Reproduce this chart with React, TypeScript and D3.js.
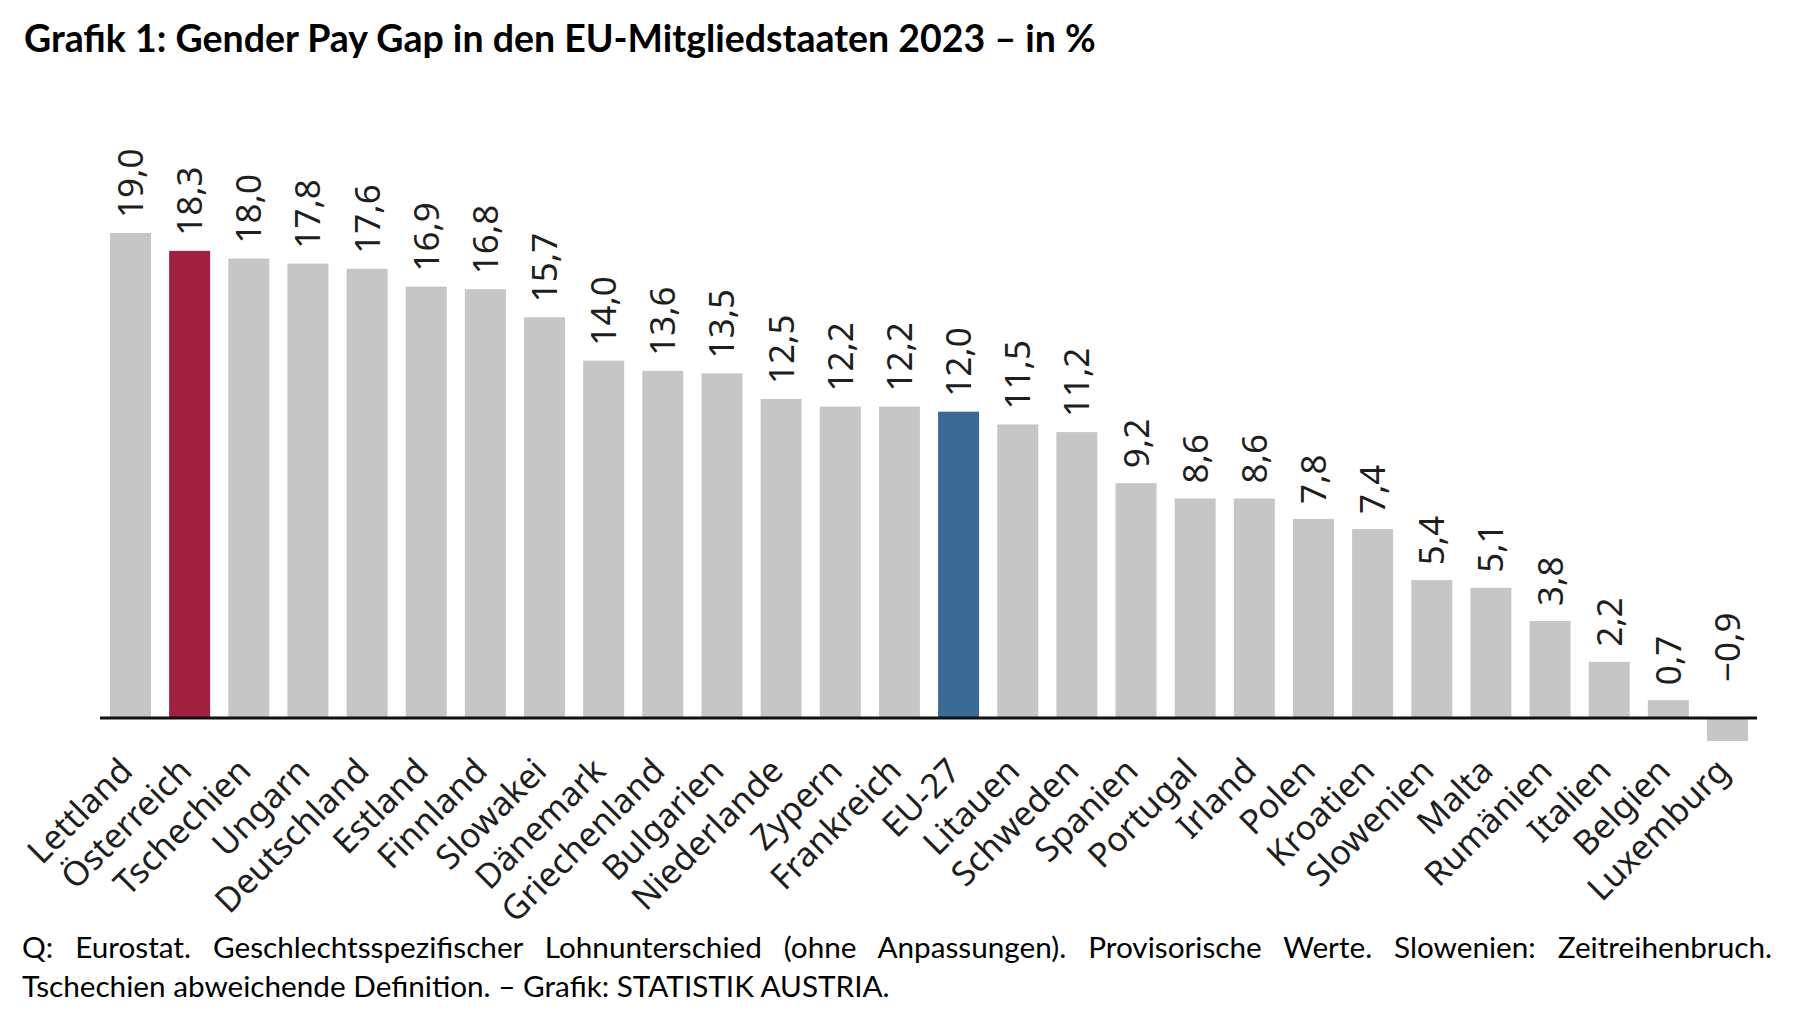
import React, { useEffect, useRef } from 'react'
import * as d3 from 'd3'

const categories = [
  'Lettland', 'Österreich', 'Tschechien', 'Ungarn', 'Deutschland', 'Estland', 'Finnland',
  'Slowakei', 'Dänemark', 'Griechenland', 'Bulgarien', 'Niederlande', 'Zypern', 'Frankreich',
  'EU-27', 'Litauen', 'Schweden', 'Spanien', 'Portugal', 'Irland', 'Polen', 'Kroatien',
  'Slowenien', 'Malta', 'Rumänien', 'Italien', 'Belgien', 'Luxemburg',
]
const values = [
  19.0, 18.3, 18.0, 17.8, 17.6, 16.9, 16.8, 15.7, 14.0, 13.6, 13.5, 12.5, 12.2, 12.2,
  12.0, 11.5, 11.2, 9.2, 8.6, 8.6, 7.8, 7.4, 5.4, 5.1, 3.8, 2.2, 0.7, -0.9,
]
const highlightColors: Record<string, string> = {
  'Österreich': '#A0213F',
  'EU-27': '#3B6A96',
}
const titleText = 'Grafik 1: Gender Pay Gap in den EU-Mitgliedstaaten 2023 – in %'
const noteLines = [
  'Q: Eurostat. Geschlechtsspezifischer Lohnunterschied (ohne Anpassungen). Provisorische Werte. Slowenien: Zeitreihenbruch.',
  'Tschechien abweichende Definition. – Grafik: STATISTIK AUSTRIA.',
]

const locale = d3.formatLocale({
  decimal: ',',
  thousands: '.',
  grouping: [3],
  currency: ['', ' €'],
  minus: '−',
})
const fmt = locale.format('.1f')

export default function App() {
  const svgRef = useRef<SVGSVGElement>(null)

  useEffect(() => {
    if (!svgRef.current) return
    document.body.style.margin = '0'

    const svg = d3.select(svgRef.current)
    svg.selectAll('*').remove()

    const rows = categories.map((c, i) => ({ c, v: values[i] }))

    const x = d3
      .scaleBand<string>()
      .domain(categories)
      .range([100, 1758])
      .paddingInner(0.307)
      .paddingOuter(0.169)

    const y = d3.scaleLinear().domain([0, 19]).range([718, 233])

    const cx = (c: string) => (x(c) ?? 0) + x.bandwidth() / 2

    // bars
    svg
      .append('g')
      .selectAll('rect')
      .data(rows)
      .join('rect')
      .attr('x', (d) => x(d.c) ?? 0)
      .attr('y', (d) => y(Math.max(0, d.v)))
      .attr('width', x.bandwidth())
      .attr('height', (d) => Math.abs(y(d.v) - y(0)))
      .attr('fill', (d) => highlightColors[d.c] ?? '#C6C6C6')

    // zero line
    svg
      .append('line')
      .attr('x1', x.range()[0])
      .attr('x2', x.range()[1] - 1)
      .attr('y1', y(0))
      .attr('y2', y(0))
      .attr('stroke', '#111')
      .attr('stroke-width', 3)

    // value labels
    svg
      .append('g')
      .selectAll('text')
      .data(rows)
      .join('text')
      .attr('transform', (d) => {
        const ty = d.v >= 0 ? y(d.v) - 15 : y(0) - 36
        return `translate(${cx(d.c) + 12.5},${ty}) rotate(-90)`
      })
      .attr('text-anchor', 'start')
      .attr('font-family', '"Noto Sans", sans-serif')
      .attr('font-size', 35)
      .attr('fill', '#1e1e1e')
      .text((d) => fmt(d.v))

    // category labels
    svg
      .append('g')
      .selectAll('text')
      .data(rows)
      .join('text')
      .attr('transform', (d) => `translate(${cx(d.c) + 4},773) rotate(-45)`)
      .attr('text-anchor', 'end')
      .attr('font-family', '"Noto Sans", sans-serif')
      .attr('font-size', 34)
      .attr('fill', '#1e1e1e')
      .text((d) => d.c)

    // title, sized to the original width
    const title = svg
      .append('text')
      .attr('x', 24)
      .attr('y', 52)
      .attr('font-family', 'Lato, sans-serif')
      .attr('font-weight', 'bold')
      .attr('font-size', 36)
      .attr('fill', '#000')
      .text(titleText)
    const tw = (title.node() as SVGTextElement).getComputedTextLength()
    title.attr('font-size', (36 * 1072) / tw)

    // footnote
    const note2 = svg
      .append('text')
      .attr('x', 22)
      .attr('y', 997)
      .attr('font-family', 'Lato, sans-serif')
      .attr('font-size', 26)
      .attr('fill', '#000')
      .text(noteLines[1])
    const nw = (note2.node() as SVGTextElement).getComputedTextLength()
    const noteSize = (26 * 868) / nw
    note2.attr('font-size', noteSize)

    const note1 = svg
      .append('text')
      .attr('x', 22)
      .attr('y', 958)
      .attr('font-family', 'Lato, sans-serif')
      .attr('font-size', noteSize)
      .attr('fill', '#000')
      .text(noteLines[0])
    const n1w = (note1.node() as SVGTextElement).getComputedTextLength()
    const gaps = noteLines[0].split(' ').length - 1
    note1.attr('word-spacing', (1772 - 22 - n1w) / gaps)
  }, [])

  return <svg ref={svgRef} width={1807} height={1027} style={{ display: 'block', background: '#fff' }} />
}
